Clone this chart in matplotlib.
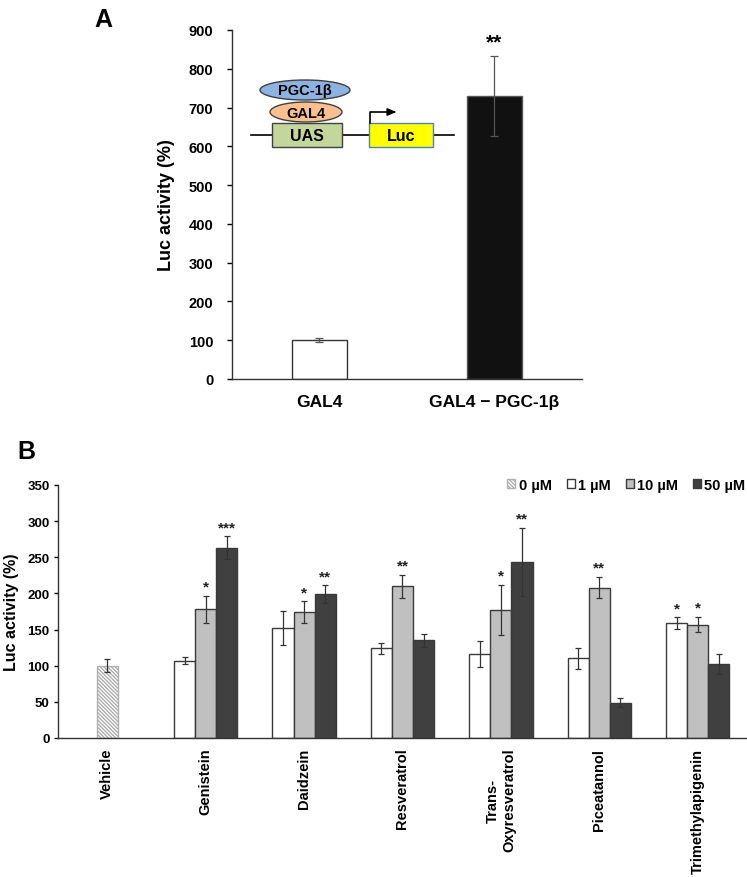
import matplotlib
matplotlib.use("Agg")
import matplotlib.pyplot as plt
from matplotlib.patches import Ellipse, Rectangle
import numpy as np

plt.rcParams["font.family"] = ["Liberation Sans", "DejaVu Sans"]
plt.rcParams["font.weight"] = "bold"
plt.rcParams["axes.labelweight"] = "bold"
plt.rcParams["axes.linewidth"] = 1.0

W, H = 747, 878

# ---------------------------------------------------------------------------
# Data — panel A
# ---------------------------------------------------------------------------
a_labels = ["GAL4", "GAL4 \u2212 PGC-1\u03b2"]
a_values = [100, 729]
a_errors = [5, 103]
a_stars = ["", "**"]
a_colors = ["white", "#111111"]

# ---------------------------------------------------------------------------
# Data — panel B
# ---------------------------------------------------------------------------
b_compounds = ["Vehicle", "Genistein", "Daidzein", "Resveratrol",
               "Trans-\nOxyresveratrol", "Piceatannol", "Trimethylapigenin"]
dose_labels = ["0 \u00b5M", "1 \u00b5M", "10 \u00b5M", "50 \u00b5M"]
vehicle_value = 100
vehicle_error = 9
mean_1uM = [107, 152, 124, 116, 110, 159]
err_1uM = [5, 24, 8, 18, 15, 8]
mean_10uM = [178, 174, 210, 177, 208, 157]
err_10uM = [19, 15, 16, 35, 15, 11]
mean_50uM = [263, 199, 135, 244, 49, 102]
err_50uM = [16, 12, 9, 47, 6, 14]
stars_1uM = ["", "", "", "", "", "*"]
stars_10uM = ["*", "*", "**", "*", "**", "*"]
stars_50uM = ["***", "**", "", "**", "", ""]
dose_colors = ["white", "#c0c0c0", "#404040"]

fig = plt.figure(figsize=(W / 100, H / 100), dpi=100)


def px_axes(x0, y0, x1, y1):
    """Axes placed by pixel box (top-left origin)."""
    return fig.add_axes([x0 / W, 1 - y1 / H, (x1 - x0) / W, (y1 - y0) / H])


# ---------------------------------------------------------------------------
# Panel A
# ---------------------------------------------------------------------------
axA = px_axes(232, 31, 582, 380)
xa = np.arange(len(a_labels))
axA.bar(xa, a_values, width=0.314, color=a_colors,
        edgecolor=["#333333", "#555555"], linewidth=1.0, zorder=2)
axA.errorbar(xa, a_values, yerr=a_errors, fmt="none", ecolor="#555555",
             elinewidth=0.9, capsize=2.8, capthick=0.9, zorder=3)
for xi, v, e, s in zip(xa, a_values, a_errors, a_stars):
    if s:
        axA.text(xi, v + e + 12, s, ha="center", va="bottom", fontsize=15)
axA.set_xlim(-0.5, 1.5)
axA.set_ylim(0, 900)
axA.set_yticks(np.arange(0, 901, 100))
axA.set_xticks(xa)
axA.set_xticklabels(a_labels, fontsize=12.5)
axA.tick_params(axis="x", length=0, pad=11)
axA.tick_params(axis="y", length=3.5, width=1, pad=10, labelsize=10.5)
axA.set_ylabel("Luc activity (%)", fontsize=13, labelpad=10)
for sp in ("top", "right"):
    axA.spines[sp].set_visible(False)
for sp in ("left", "bottom"):
    axA.spines[sp].set_color("#333333")

fig.text(103 / W, 1 - 20 / H, "A", fontsize=18, ha="center", va="center")

# construct diagram (pixel units)
axD = px_axes(240, 75, 460, 155)
axD.set_xlim(240, 460)
axD.set_ylim(155, 75)
axD.axis("off")
axD.plot([251, 454], [136, 136], color="black", lw=1.2, zorder=1)
axD.add_patch(Rectangle((272, 124), 70, 24, fc="#c3d69b", ec="#404040",
                        lw=1, zorder=2))
axD.add_patch(Rectangle((369, 124), 64, 24, fc="#ffff00", ec="#4f81bd",
                        lw=1, zorder=2))
axD.add_patch(Ellipse((306, 113), 72, 20, fc="#fac090", ec="#404040",
                      lw=1, zorder=2))
axD.add_patch(Ellipse((305, 91), 90, 20, fc="#8db3e2", ec="#404040",
                      lw=1, zorder=2))
axD.plot([370, 370, 392], [124, 113, 113], color="black", lw=1.2, zorder=3)
axD.annotate("", xy=(399, 113), xytext=(390, 113),
             arrowprops=dict(arrowstyle="-|>,head_length=0.5,head_width=0.22",
                             color="black", lw=1.2))
axD.text(307, 136.5, "UAS", ha="center", va="center", fontsize=11.5, zorder=4)
axD.text(401, 136.5, "Luc", ha="center", va="center", fontsize=11.5, zorder=4)
axD.text(306, 113.5, "GAL4", ha="center", va="center", fontsize=10.5, zorder=4)
axD.text(305, 91.5, "PGC-1\u03b2", ha="center", va="center", fontsize=10.5,
         zorder=4)

# ---------------------------------------------------------------------------
# Panel B
# ---------------------------------------------------------------------------
axB = px_axes(58, 486, 747, 739)
xb = np.arange(len(b_compounds))
bw = 0.214
axB.bar(xb[0], vehicle_value, width=bw, color="white", edgecolor="#b0b0b0",
        hatch="\\" * 9, linewidth=1.0, label=dose_labels[0], zorder=2)
axB.errorbar(xb[0], vehicle_value, yerr=vehicle_error, fmt="none",
             ecolor="#333333", elinewidth=0.9, capsize=2, capthick=0.9,
             zorder=3)

series = [(mean_1uM, err_1uM, stars_1uM), (mean_10uM, err_10uM, stars_10uM),
          (mean_50uM, err_50uM, stars_50uM)]
for i, (means, errs, stars) in enumerate(series):
    xs = xb[1:] + (i - 1) * bw
    axB.bar(xs, means, width=bw, color=dose_colors[i], edgecolor="#3a3a3a",
            linewidth=1.0, label=dose_labels[i + 1], zorder=2)
    axB.errorbar(xs, means, yerr=errs, fmt="none", ecolor="#333333",
                 elinewidth=0.9, capsize=2, capthick=0.9, zorder=3)
    for xi, m, e, s in zip(xs, means, errs, stars):
        if s:
            axB.text(xi, m + e + 3, s, ha="center", va="bottom",
                     fontsize=11, color="#222222")

axB.set_xlim(-0.5, len(b_compounds) - 0.5)
axB.set_ylim(0, 350)
axB.set_yticks(np.arange(0, 351, 50))
axB.set_xticks(xb)
axB.set_xticklabels(b_compounds, rotation=90, fontsize=10.5,
                    multialignment="center")
axB.tick_params(axis="x", length=0, pad=7)
axB.tick_params(axis="y", length=3, width=1, pad=3, labelsize=9.5)
axB.set_ylabel("Luc activity (%)", fontsize=11.5, labelpad=6)
for sp in ("top", "right"):
    axB.spines[sp].set_visible(False)
for sp in ("left", "bottom"):
    axB.spines[sp].set_color("#333333")

axB.legend(loc="center right", bbox_to_anchor=(1.0, 1.0), ncol=4,
           frameon=False, fontsize=10.5, handlelength=0.55, handleheight=0.55,
           handletextpad=0.25, columnspacing=1.0, borderaxespad=0,
           borderpad=0.1)

fig.text(26 / W, 1 - 452 / H, "B", fontsize=18, ha="center", va="center")

fig.savefig("out.png", dpi=100)
